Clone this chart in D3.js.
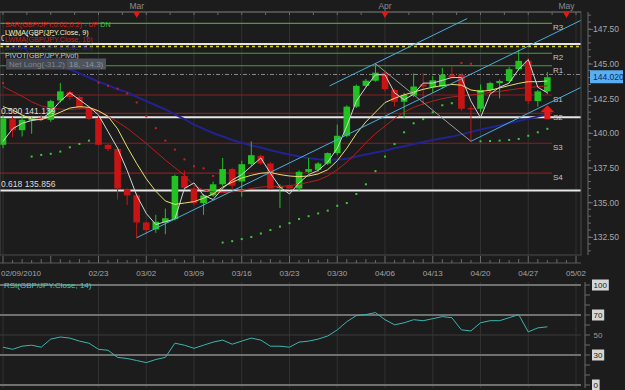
<!DOCTYPE html>
<html>
<head>
<meta charset="utf-8">
<script src="https://cdn.jsdelivr.net/npm/d3@7"></script>
<style>
  body { margin: 0; background: #1c1c1c; }
  svg { display: block; font-family: "Liberation Sans", Arial, sans-serif; }
</style>
</head>
<body>
<svg id="chart" width="625" height="390"></svg>
<script>
// daily GBP/JPY candles, index 0 = 02/09/2010
const opens = [139.15, 141.0, 140.2, 140.9, 141.1, 140.95, 142.35, 142.95, 142.6, 141.8,
  141.05, 139.15, 138.85, 135.95, 135.5, 133.55, 133.05, 133.55, 133.8, 136.9,
  136.0, 134.95, 135.5, 136.3, 137.4, 136.5, 137.75, 138.35, 137.8, 136.05,
  136.2, 136.0, 137.2, 137.35, 137.8, 138.55, 139.8, 141.9, 143.4, 143.77,
  144.35, 143.1, 142.25, 142.7, 143.5, 143.3, 143.35, 144.2, 144.2, 141.8,
  141.75, 143.1, 143.6, 143.75, 144.6, 145.2, 142.3, 143.0]
const highs = [141.3, 141.2, 141.3, 141.15, 141.3, 142.4, 143.6, 143.05, 142.7, 141.9,
  141.2, 139.2, 139.0, 136.0, 135.6, 133.6, 134.1, 134.55, 137.0, 137.3,
  136.1, 135.6, 136.5, 138.2, 137.5, 138.0, 139.4, 138.45, 137.9, 136.3,
  136.3, 137.3, 138.2, 137.9, 138.6, 140.6, 142.0, 143.5, 143.9, 145.0,
  144.4, 143.2, 142.9, 144.3, 144.3, 144.1, 144.7, 144.8, 144.3, 142.0,
  143.5, 143.7, 143.85, 144.75, 146.0, 145.4, 143.1, 144.4]
const lows = [138.9, 139.7, 139.75, 139.95, 140.85, 140.8, 142.2, 142.4, 141.7, 140.95,
  139.1, 138.7, 135.2, 134.8, 132.4, 132.7, 132.8, 132.7, 133.7, 135.9,
  134.8, 134.1, 135.4, 136.2, 135.9, 135.4, 137.6, 137.7, 135.9, 134.6,
  135.9, 135.8, 137.1, 137.2, 137.7, 138.4, 139.7, 141.8, 143.3, 143.7,
  143.0, 141.9, 141.05, 142.6, 142.0, 142.9, 143.2, 143.9, 141.6, 139.4,
  141.5, 142.9, 142.5, 143.6, 144.5, 142.1, 141.9, 142.8]
const closes = [141.05, 140.2, 140.95, 141.05, 141.0, 142.3, 143.0, 142.6, 141.8, 141.05,
  139.15, 138.85, 136.0, 135.5, 133.55, 133.0, 133.6, 133.85, 136.9, 136.05,
  134.95, 135.5, 136.3, 137.4, 136.2, 137.75, 138.4, 137.8, 136.0, 136.15,
  136.0, 137.2, 137.4, 137.8, 138.55, 139.8, 141.9, 143.4, 143.77, 144.35,
  143.15, 142.25, 142.75, 143.35, 143.35, 143.8, 144.2, 144.0, 141.75, 141.7,
  143.1, 143.6, 143.75, 144.6, 145.2, 142.3, 143.0, 144.02]

// indicator lines
const fastLine = [139.4, 140.3, 140.7, 140.9, 141.0, 141.5, 142.3, 142.9, 142.4, 141.9,
  141.3, 140.1, 138.9, 137.3, 135.5, 134.2, 133.4, 133.6, 133.8, 136.0,
  136.4, 135.5, 135.2, 136.0, 136.6, 137.0, 137.6, 138.2, 137.1, 136.1,
  135.6, 136.4, 137.0, 137.3, 137.9, 138.9, 140.5, 142.3, 143.3, 144.2,
  144.2, 142.9, 142.4, 142.8, 143.6, 143.6, 143.8, 144.0, 144.0, 142.3,
  141.1, 142.8, 143.3, 143.6, 144.6, 145.3, 143.3, 142.9]
const lwma9 = [141.9, 141.66, 141.3, 141.0, 140.95, 141.2, 141.5, 141.8, 141.9, 141.85,
  141.6, 141.2, 140.3, 139.0, 137.8, 136.7, 135.8, 135.1, 134.85, 134.95,
  135.05, 135.3, 135.6, 136.1, 136.45, 136.75, 136.95, 137.1, 137.15, 137.0,
  136.9, 136.85, 136.9, 137.05, 137.35, 138.0, 138.9, 139.95, 140.8, 141.5,
  142.2, 142.5, 142.75, 142.95, 143.15, 143.3, 143.42, 143.5, 143.45, 143.1,
  143.0, 143.08, 143.25, 143.42, 143.58, 143.7, 143.7, 143.75]
const lwma16 = [143.35, 143.0, 142.65, 142.25, 141.95, 141.8, 141.72, 141.7, 141.74, 141.76,
  141.55, 141.2, 140.8, 140.35, 139.8, 139.25, 138.65, 138.05, 137.5, 136.95,
  136.2, 135.9, 135.75, 135.7, 135.75, 135.85, 136.0, 136.1, 136.15, 136.15,
  136.2, 136.3, 136.45, 136.6, 136.9, 137.35, 137.9, 138.55, 139.3, 139.95,
  140.5, 141.05, 141.5, 141.85, 142.1, 142.3, 142.48, 142.6, 142.68, 142.74,
  142.82, 142.92, 143.0, 143.1, 143.2, 143.28, 143.34, 143.4]
const lwma50 = [null, null, null, null, 145.45, 145.2, 144.85, 144.6, 144.3, 144.0,
  143.7, 143.45, 143.15, 142.95, 142.6, 142.3, 142.0, 141.7, 141.35, 141.0,
  140.6, 140.3, 140.0, 139.75, 139.5, 139.3, 139.1, 138.95, 138.75, 138.6,
  138.45, 138.3, 138.2, 138.1, 138.05, 138.08, 138.15, 138.3, 138.45, 138.6,
  138.72, 138.9, 139.05, 139.2, 139.35, 139.5, 139.62, 139.74, 139.9, 140.08,
  140.25, 140.4, 140.55, 140.72, 140.87, 141.02, 141.18, 141.35]
const sarUp = [null, null, null, 138.3, 138.42, 138.5, 138.66, 138.97, 139.21, 139.45,
  null, null, null, null, null, null, null, null, null, null,
  null, null, null, 132.1, 132.2, 132.35, 132.5, 132.75, 133.0, 133.25,
  133.5, 133.8, 134.0, 134.2, 134.4, 134.75, 134.95, 135.6, 136.3, 137.25,
  138.3, 139.2, 140.05, 140.7, 141.0, 141.5, 142.0, 142.15, null, null,
  139.4, 139.42, 139.45, 139.5, 139.57, 139.8, 140.05, 140.3]
const sarDn = [143.6, null, null, null, null, null, null, null, null, null,
  143.63, 143.4, 143.2, 142.85, 142.2, 141.2, 140.35, 139.45, 138.8, 138.1,
  137.6, 137.45, 136.9, null, null, null, null, null, null, null,
  null, null, null, null, null, null, null, null, null, null,
  null, null, null, null, null, null, null, null, 145.05, 145.0,
  null, null, null, null, null, null, null, null]
const rsi = [37.8, 35.7, 38.8, 39.8, 37.8, 45.9, 48.0, 46.9, 43.9, 41.8,
  35.7, 34.7, 27.6, 26.5, 24.5, 22.4, 25.5, 27.6, 41.8, 39.8,
  36.7, 39.8, 42.9, 44.9, 40.8, 43.9, 46.9, 44.9, 38.8, 38.8,
  37.8, 42.9, 43.9, 45.9, 49.0, 55.1, 63.3, 69.4, 70.4, 72.4,
  65.3, 60.2, 62.2, 65.3, 64.3, 66.3, 68.4, 67.3, 55.1, 54.1,
  62.2, 64.3, 64.3, 67.3, 70.4, 53.1, 57.1, 58.2]

const pivotNames = ["R3", "R2", "R1", "S1", "S2", "S3", "S4"]
const pivotValues = [147.9, 145.75, 144.85, 142.74, 141.42, 139.26, 137.1]
const pivotPoint = 144.22
const fibRatios = ["0.382", "0.500", "0.618"]
const fibValues = [146.422, 141.139, 135.856]
const dashedLevel = 146.24
const lastPrice = 144.02

const priceTicks = [132.5, 135, 137.5, 140, 142.5, 145, 147.5]
const rsiTicks = [0, 30, 50, 70, 100]
const dateIdx = [0, 10, 15, 20, 25, 30, 35, 40, 45, 50, 55, 60]
const dateLabels = ["02/09/2010", "02/23", "03/02", "03/09", "03/16", "03/23",
  "03/30", "04/06", "04/13", "04/20", "04/27", "05/02"]
const monthIdx = [14, 40, 59]
const monthLabels = ["Mar", "Apr", "May"]

// channel / zigzag anchors as [index, price]
const channelMain = [[14, 132.45], [60.5, 148.12]]
const channelUpper = [[34.2, 143.4], [48.6, 148.25]]
const channelLower = [[49, 139.4], [60.5, 143.28]]
const zigzag = [[39, 145.0], [49, 139.4]]
const arrowIdx = 57
const arrowPrice = 142.0

const W = 625, H = 390
const plot = { left: 0, right: 581, top: 12, bottom: 255 }
const GREEN = "#22c222", RED = "#c81414"

const x = d3.scaleLinear().domain([0, 60]).range([3, 576])
const y = d3.scaleLinear().domain([132.5, 147.5]).range([237, 29])
const yRsi = d3.scaleLinear().domain([0, 100]).range([385, 285])

const svg = d3.select("#chart")
svg.append("rect").attr("width", W).attr("height", H).attr("fill", "#1c1c1c")

let defs = svg.append("defs")
defs.append("clipPath").attr("id", "clipMain").append("rect")
  .attr("x", plot.left).attr("y", plot.top)
  .attr("width", plot.right - plot.left).attr("height", plot.bottom - plot.top)
defs.append("clipPath").attr("id", "clipRsi").append("rect")
  .attr("x", 0).attr("y", 280).attr("width", plot.right).attr("height", 110)

let main = svg.append("g").attr("clip-path", "url(#clipMain)")

//weekly grid
main.selectAll(".vgrid").data(dateIdx).enter().append("line")
  .attr("x1", d => x(d)).attr("x2", d => x(d))
  .attr("y1", plot.top).attr("y2", plot.bottom)
  .attr("stroke", "#303030")

//fib levels
main.selectAll(".fib").data(fibValues).enter().append("line")
  .attr("x1", 0).attr("x2", plot.right)
  .attr("y1", d => y(d)).attr("y2", d => y(d))
  .attr("stroke", "#e6e6e6").attr("stroke-width", 2)

main.append("line")
  .attr("x1", 0).attr("x2", plot.right)
  .attr("y1", y(dashedLevel)).attr("y2", y(dashedLevel))
  .attr("stroke", "#d8d020").attr("stroke-width", 1.5)
  .attr("stroke-dasharray", "3,3")

//pivot levels
main.selectAll(".pivot").data(pivotValues).enter().append("line")
  .attr("x1", 0).attr("x2", 552)
  .attr("y1", d => y(d)).attr("y2", d => y(d))
  .attr("stroke", (d, i) => pivotNames[i][0] === "R" ? "#45a032" : "#8c1c1c")
  .attr("stroke-width", 1.2)

main.append("line")
  .attr("x1", 0).attr("x2", plot.right)
  .attr("y1", y(pivotPoint)).attr("y2", y(pivotPoint))
  .attr("stroke", "#8a8a8a").attr("stroke-dasharray", "4,2,1,2")

main.selectAll(".pivotLabel").data(pivotValues).enter().append("text")
  .attr("x", 553).attr("y", d => y(d) + 7)
  .attr("fill", "#c4c4c4").attr("font-size", 8)
  .text((d, i) => pivotNames[i])

const toLine = data => d3.line()
  .defined(d => d !== null)
  .x((d, i) => x(i))
  .y(d => y(d))(data)

main.append("path").attr("d", toLine(lwma50))
  .attr("fill", "none").attr("stroke", "#222290").attr("stroke-width", 2)

//candles
let candles = main.selectAll(".candle").data(d3.range(opens.length)).enter().append("g")
candles.append("line")
  .attr("x1", i => x(i)).attr("x2", i => x(i))
  .attr("y1", i => y(highs[i])).attr("y2", i => y(lows[i]))
  .attr("stroke", i => closes[i] >= opens[i] ? GREEN : RED)
candles.append("rect")
  .attr("x", i => x(i) - 3.3).attr("width", 6.6)
  .attr("y", i => y(Math.max(opens[i], closes[i])))
  .attr("height", i => Math.max(1.2, Math.abs(y(opens[i]) - y(closes[i]))))
  .attr("fill", i => closes[i] >= opens[i] ? GREEN : RED)

main.append("path").attr("d", toLine(lwma16))
  .attr("fill", "none").attr("stroke", "#b42020").attr("stroke-width", 1)
main.append("path").attr("d", toLine(lwma9))
  .attr("fill", "none").attr("stroke", "#e8e070").attr("stroke-width", 1)
main.append("path").attr("d", toLine(fastLine))
  .attr("fill", "none").attr("stroke", "#d4d4d4").attr("stroke-width", 1)

//channel + zigzag
const seg = d3.line().x(d => x(d[0])).y(d => y(d[1]))
;[channelMain, channelUpper, channelLower].forEach(c => {
  main.append("path").attr("d", seg(c))
    .attr("fill", "none").attr("stroke", "#48aee0").attr("stroke-width", 1)
})
main.append("path").attr("d", seg(zigzag))
  .attr("fill", "none").attr("stroke", "#9a9a9a").attr("stroke-width", 1)

//parabolic SAR dots
const dots = (data, color) => {
  main.selectAll(null).data(data.map((v, i) => [i, v]).filter(d => d[1] !== null))
    .enter().append("rect")
    .attr("x", d => x(d[0]) - 1).attr("y", d => y(d[1]) - 1)
    .attr("width", 2).attr("height", 2).attr("fill", color)
}
dots(sarUp, "#3cc83c")
dots(sarDn, "#c82020")

//signal arrow
let ax = x(arrowIdx), ay = y(arrowPrice)
main.append("path")
  .attr("d", `M${ax},${ay} L${ax + 7},${ay + 7} L${ax + 3},${ay + 7} L${ax + 3},${ay + 14}
    L${ax - 3},${ay + 14} L${ax - 3},${ay + 7} L${ax - 7},${ay + 7} Z`)
  .attr("fill", "#e41a1a")

//fib labels on top of the candles (0.382 sits under the legend)
main.selectAll(".fibLabel").data(fibValues).enter().append("text")
  .attr("x", 1).attr("y", d => y(d) - 3)
  .attr("fill", "#dcdcdc").attr("font-size", 8.5)
  .text((d, i) => fibRatios[i] + " " + d3.format(".3f")(d))

//frame
svg.append("rect")
  .attr("x", plot.left).attr("y", plot.top)
  .attr("width", plot.right - plot.left).attr("height", plot.bottom - plot.top)
  .attr("fill", "none").attr("stroke", "#4a4a4a")

//top month strip
svg.append("line").attr("x1", 0).attr("x2", plot.right)
  .attr("y1", plot.top).attr("y2", plot.top).attr("stroke", "#6a6a6a")
svg.selectAll(".topTick").data(d3.range(0, 61, 2.5)).enter().append("line")
  .attr("x1", d => x(d)).attr("x2", d => x(d))
  .attr("y1", plot.top).attr("y2", plot.top + 3).attr("stroke", "#6a6a6a")
svg.selectAll(".month").data(monthIdx).enter().append("text")
  .attr("x", d => x(d)).attr("y", 9).attr("text-anchor", "middle")
  .attr("fill", "#8c8c8c").attr("font-size", 8.5)
  .text((d, i) => monthLabels[i])
svg.selectAll(".monthMark").data(monthIdx).enter().append("path")
  .attr("d", d => `M${x(d) - 3.5},${plot.top} L${x(d) + 3.5},${plot.top} L${x(d)},${plot.top + 6} Z`)
  .attr("fill", "#e01818")

//price axis
let yAxisG = svg.append("g").attr("transform", `translate(588,0)`)
yAxisG.append("line").attr("y1", plot.top).attr("y2", plot.bottom).attr("stroke", "#6a6a6a")
yAxisG.selectAll(".minor").data(d3.range(131.5, 148.6, 0.5)).enter().append("line")
  .attr("x2", 3).attr("y1", d => y(d)).attr("y2", d => y(d)).attr("stroke", "#6a6a6a")
yAxisG.call(g => g.append("g")
  .call(d3.axisRight(y).tickValues(priceTicks).tickSize(5).tickFormat(d3.format(".2f")))
  .call(a => a.select(".domain").remove())
  .call(a => a.selectAll("line").attr("stroke", "#6a6a6a"))
  .call(a => a.selectAll("text").attr("fill", "#a8a8a8").attr("font-size", 8.5)
    .attr("x", 5).attr("font-family", "Liberation Sans, Arial, sans-serif")))

let lp = svg.append("g").attr("transform", `translate(590,${y(lastPrice)})`)
lp.append("rect").attr("x", 0).attr("y", -7).attr("width", 33).attr("height", 13)
  .attr("fill", "#5aaef2")
lp.append("text").attr("x", 3).attr("y", 3).attr("fill", "#0c2c66")
  .attr("font-size", 8.5).text(d3.format(".3f")(lastPrice))

//date axis
const dateBase = 263
svg.append("line").attr("x1", 0).attr("x2", plot.right)
  .attr("y1", dateBase).attr("y2", dateBase).attr("stroke", "#5a5a5a")
svg.selectAll(".dTick").data(d3.range(0, 61)).enter().append("line")
  .attr("x1", d => x(d)).attr("x2", d => x(d))
  .attr("y1", dateBase).attr("y2", d => d % 5 === 0 ? dateBase - 7 : dateBase - (d % 2 ? 3 : 4))
  .attr("stroke", "#6a6a6a")
svg.selectAll(".dLabel").data(dateIdx).enter().append("text")
  .attr("x", d => d === 0 ? 1 : x(d))
  .attr("y", 276)
  .attr("text-anchor", d => d === 0 ? "start" : "middle")
  .attr("fill", "#a4a4a4").attr("font-size", 8)
  .text((d, i) => dateLabels[i])

//RSI panel
let rp = svg.append("g")
rp.selectAll(".rgrid").data(dateIdx).enter().append("line")
  .attr("x1", d => x(d)).attr("x2", d => x(d))
  .attr("y1", 282).attr("y2", 388).attr("stroke", "#303030")
rp.selectAll(".rlevel").data(rsiTicks).enter().append("line")
  .attr("x1", 0).attr("x2", plot.right)
  .attr("y1", d => yRsi(d)).attr("y2", d => yRsi(d))
  .attr("stroke", d => d === 50 ? "#3a3a3a" : "#707070")
  .attr("stroke-width", d => d === 50 ? 1 : 2)
rp.append("path").attr("clip-path", "url(#clipRsi)")
  .attr("d", d3.line().x((d, i) => x(i)).y(d => yRsi(d))(rsi))
  .attr("fill", "none").attr("stroke", "#3cb4b0").attr("stroke-width", 1)
rp.append("text").attr("x", 4).attr("y", 288)
  .attr("fill", "#46c8c8").attr("font-size", 8)
  .text("RSI(GBP/JPY.Close, 14)")

let ra = svg.append("g").attr("transform", "translate(585,0)")
ra.append("line").attr("y1", 282).attr("y2", 388).attr("stroke", "#6a6a6a")
ra.selectAll(".rminor").data(d3.range(0, 101, 10)).enter().append("line")
  .attr("x2", 5).attr("y1", d => yRsi(d)).attr("y2", d => yRsi(d)).attr("stroke", "#6a6a6a")
let rl = ra.selectAll(".rlab").data(rsiTicks).enter().append("g")
  .attr("transform", d => `translate(7,${yRsi(d)})`)
rl.filter(d => d !== 50).append("rect")
  .attr("x", 0).attr("y", -5.5).attr("height", 11)
  .attr("width", d => String(d).length * 4.6 + 3).attr("fill", "#d6d6d6")
rl.append("text").attr("x", 1.5).attr("y", 3)
  .attr("fill", d => d === 50 ? "#9a9a9a" : "#1a1a1a").attr("font-size", 8)
  .text(d => d)

//legend
let lg = svg.append("g").attr("font-size", 7.2)
lg.append("rect").attr("x", 4).attr("y", 36).attr("width", 92).attr("height", 7).attr("fill", "#1c1c1c")
let sarRow = lg.append("text").attr("x", 5).attr("y", 27)
sarRow.append("tspan").attr("fill", "#d42020").text("SAR(GBP/JPY,0.02,0.2)  -  UP  ")
sarRow.append("tspan").attr("fill", "#3cc83c").text("DN")
lg.append("text").attr("x", 5).attr("y", 34.8).attr("fill", "#f2f0c8").text("LWMA(GBP/JPY.Close, 9)")
lg.append("text").attr("x", 5).attr("y", 42.3).attr("fill", "#c42222").text("LWMA(GBP/JPY.Close, 16)")
lg.append("text").attr("x", 5).attr("y", 49.6).attr("fill", "#2a2ab0").text("LWMA(GBP/JPY.Close, 50)")
lg.append("text").attr("x", 5).attr("y", 57.8).attr("fill", "#c8c8c8").text("PIVOT(GBP/JPY,Pivot)")

let nl = svg.append("g")
nl.append("rect").attr("x", 6).attr("y", 58.5).attr("width", 61).attr("height", 11).attr("fill", "#454951")
nl.append("rect").attr("x", 67).attr("y", 58.5).attr("width", 39).attr("height", 11).attr("fill", "#50545c")
nl.append("text").attr("x", 9).attr("y", 66.8).attr("fill", "#7e8794").attr("font-size", 8).text("Net Long(-31.2)")
nl.append("text").attr("x", 69).attr("y", 66.8).attr("fill", "#8e96a2").attr("font-size", 8).text("18, -14.3)")
</script>
</body>
</html>
